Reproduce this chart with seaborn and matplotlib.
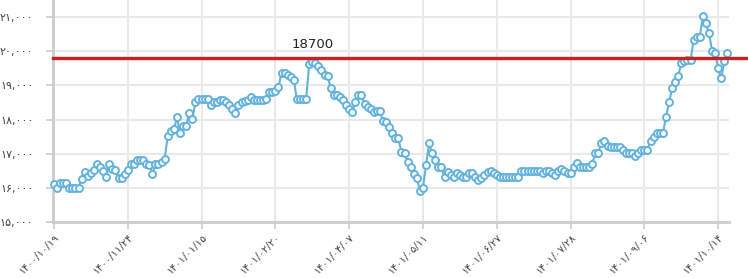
import matplotlib
matplotlib.use("Agg")
import matplotlib.pyplot as plt
import seaborn as sns
import pandas as pd
from matplotlib.ticker import FuncFormatter, FixedLocator

# ---- data ----
prices = [
    16110, 16000, 16130, 16130, 16130, 16000, 16000, 16000, 16000, 16260,
    16450, 16350, 16430, 16520, 16700, 16600, 16490, 16330, 16700, 16560,
    16520, 16300, 16300, 16400, 16520, 16700, 16700, 16810, 16810, 16810,
    16690, 16680, 16400, 16690, 16700, 16760, 16840, 17520, 17670, 17710,
    18060, 17600, 17810, 17810, 18200,
    18006, 18503, 18600, 18600, 18600, 18600, 18415, 18503, 18503, 18570,
    18570, 18503, 18415, 18298, 18200, 18415, 18503, 18550, 18570, 18650,
    18570, 18570, 18570, 18570, 18600, 18796, 18796, 18843, 18942, 19370,
    19370, 19302, 19250, 19156, 18591, 18591, 18591, 18591, 19624, 19683,
    19663, 19580, 19450, 19300, 19273,
    18913, 18717, 18717, 18667, 18570, 18424, 18298, 18220, 18503, 18717,
    18717, 18444, 18375, 18298, 18220, 18249, 18249, 17956, 17917, 17789,
    17595, 17449, 17449, 17039, 17010, 16765, 16618, 16396, 16296, 15907,
    16004, 16668, 17303, 17010, 16814, 16600, 16600, 16308, 16473, 16375,
    16308,
    16424, 16375, 16326, 16326, 16424, 16424, 16308, 16229, 16279, 16375,
    16470, 16502, 16424, 16375, 16326, 16308, 16308, 16308, 16308, 16308,
    16308, 16502, 16502, 16502, 16502, 16502, 16502, 16502, 16424, 16502,
    16502, 16424, 16375, 16502, 16540, 16502, 16440, 16424, 16620, 16717,
    16620, 16620, 16620, 16620, 16697,
    17010, 17010, 17322, 17380, 17224, 17185, 17185, 17185, 17185, 17107,
    17010, 17010, 17010, 16940, 17020, 17107, 17107, 17107, 17380, 17497,
    17595, 17595, 17595, 18064, 18503, 18913, 19107, 19282, 19645, 19721,
    19730, 19730, 20327, 20405, 20405, 21029, 20815, 20523, 20015, 19937,
    19498, 19206, 19721, 19937,
]
date_labels = ["۱۴۰۰/۱۰/۱۹", "۱۴۰۰/۱۱/۲۴", "۱۴۰۱/۰۱/۱۵", "۱۴۰۱/۰۲/۲۰",
               "۱۴۰۱/۰۴/۰۷", "۱۴۰۱/۰۵/۱۱", "۱۴۰۱/۰۶/۲۷", "۱۴۰۱/۰۷/۲۸",
               "۱۴۰۱/۰۹/۰۶", "۱۴۰۱/۱۰/۱۴"]
tick_step = 24
y_ticks = [15000, 16000, 17000, 18000, 19000, 20000, 21000]
ref_value = 19800
ref_label = "18700"

# ---- helpers ----
FA = str.maketrans("0123456789", "۰۱۲۳۴۵۶۷۸۹")

def fa_num(v, pos=None):
    return f"{int(round(v)):,}".translate(FA)

df = pd.DataFrame({"idx": range(len(prices)), "price": prices})

plt.rcParams["font.family"] = ["DejaVu Sans", "Noto Sans"]
W, H = 748, 278
fig = plt.figure(figsize=(W / 100, H / 100), dpi=100)
ax = fig.add_axes([53 / W, 56 / H, (729 - 53) / W, 222 / H])

line_color = "#62b2dd"
sns.lineplot(data=df, x="idx", y="price", ax=ax, color=line_color,
             linewidth=1.5, marker="o", markersize=5,
             markerfacecolor="white", markeredgecolor=line_color,
             markeredgewidth=1.4, clip_on=False, zorder=3)

ax.set_xlim(-0.3, 219.5)
ax.set_ylim(15000, 21500)

# reference line extends past the plot area to the figure edge
ax.axhline(ref_value, xmin=0, xmax=(W - 53) / (729 - 53), color="#cc1f1f",
           linewidth=2.4, clip_on=False, zorder=4)
ax.annotate(ref_label, xy=(84, ref_value), xytext=(0, 14),
            textcoords="offset pixels", ha="center", va="center",
            fontsize=9.5, color="#222222")

# axes styling
ax.set_xlabel("")
ax.set_ylabel("")
for s in ["top", "right"]:
    ax.spines[s].set_visible(False)
for s in ["left", "bottom"]:
    ax.spines[s].set_color("#cccccc")
    ax.spines[s].set_linewidth(2)
ax.grid(True, color="#e9e9e9", linewidth=1.5)
ax.set_axisbelow(True)

xt = list(range(0, len(prices), tick_step))[:len(date_labels)]
ax.xaxis.set_major_locator(FixedLocator(xt))
ax.set_xticklabels(date_labels, rotation=45, ha="right", va="top",
                   rotation_mode="anchor", fontsize=7.5, color="#444444")
ax.yaxis.set_major_locator(FixedLocator(y_ticks))
ax.yaxis.set_major_formatter(FuncFormatter(fa_num))
ax.tick_params(axis="y", length=5, width=1.2, color="#cccccc", pad=9,
               labelsize=8, labelcolor="#444444")
ax.tick_params(axis="x", length=5, width=1.2, color="#cccccc", pad=2)

fig.savefig("out.png", dpi=100)
